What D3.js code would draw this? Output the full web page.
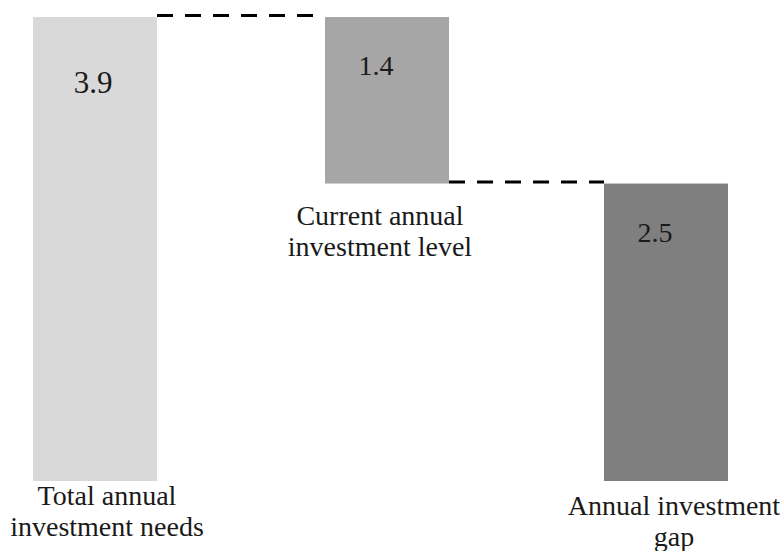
<!DOCTYPE html>
<html>
<meta charset="utf-8">
<head>
	<script src="https://d3js.org/d3.v7.min.js"></script>
	<style>
		body { margin: 0; background: #fff; }
		.label {
			font-family: "Liberation Serif", "Times New Roman", serif;
			font-size: 28px;
			fill: #1a1a1a;
		}
		.connector {
			stroke: #000;
			stroke-width: 3px;
			stroke-dasharray: 16 12;
		}
	</style>
</head>
<body>
<script>
	// data
	var categories = ["Total annual investment needs", "Current annual investment level", "Annual investment gap"];
	var values = [3.9, -1.4, 2.5];   // waterfall steps
	var labelLines = [["Total annual", "investment needs"], ["Current annual", "investment level"], ["Annual investment", "gap"]];
	var colors = ["#d9d9d9", "#a6a6a6", "#7f7f7f"];

	var width = 782,
		height = 551,
		barWidth = 124;

	// build start/end for each step (last bar is the residual, drawn from 0)
	var bars = [];
	var running = 0;
	for (var i = 0; i < values.length; i++) {
		var v = values[i], b = {};
		if (i == values.length - 1) {
			b.lo = 0; b.hi = running;
		} else {
			b.lo = Math.min(running, running + v);
			b.hi = Math.max(running, running + v);
			running += v;
		}
		b.value = Math.abs(v);
		b.cat = categories[i];
		b.lines = labelLines[i];
		b.color = colors[i];
		bars.push(b);
	}

	// left edge of each bar
	var x = d3.scaleOrdinal()
		.domain(categories)
		.range([33, 325, 604]);

	var y = d3.scaleLinear()
		.domain([0, 3.9])
		.range([481, 17]);

	// layout tweaks for text (pixels)
	var valueDx = [-2, -11, -11],
		valueDy = [76, 58, 58],
		catDx = [12, -7, 8],
		catY = [505, 225, 515],
		lineGap = 31;

	var svg = d3.select("body").append("svg")
		.attr("width", width)
		.attr("height", height);

	svg.selectAll("rect.bar")
		.data(bars).enter()
		.append("rect")
		.attr("class", "bar")
		.attr("x", function(d) { return x(d.cat); })
		.attr("y", function(d) { return y(d.hi); })
		.attr("width", barWidth)
		.attr("height", function(d) { return y(d.lo) - y(d.hi); })
		.attr("fill", function(d) { return d.color; });

	// dashed connectors between bars
	for (var j = 0; j < bars.length - 1; j++) {
		var level = (j == 0) ? bars[0].hi : bars[1].lo;
		svg.append("line")
			.attr("class", "connector")
			.attr("x1", x(bars[j].cat) + barWidth)
			.attr("x2", x(bars[j + 1].cat))
			.attr("y1", y(level) - 1.5)
			.attr("y2", y(level) - 1.5);
	}

	// value labels
	svg.selectAll("text.value")
		.data(bars).enter()
		.append("text")
		.attr("class", "label value")
		.attr("text-anchor", "middle")
		.style("font-size", function(d, i) { return i == 0 ? "31px" : "28px"; })
		.attr("x", function(d, i) { return x(d.cat) + barWidth / 2 + valueDx[i]; })
		.attr("y", function(d, i) { return y(d.hi) + valueDy[i]; })
		.text(function(d) { return d3.format(".1f")(d.value); });

	// category labels
	bars.forEach(function(d, i) {
		var t = svg.append("text")
			.attr("class", "label")
			.attr("text-anchor", "middle");
		d.lines.forEach(function(line, k) {
			t.append("tspan")
				.attr("x", x(d.cat) + barWidth / 2 + catDx[i])
				.attr("y", catY[i] + k * lineGap)
				.text(line);
		});
	});
</script>
</body>
</html>
